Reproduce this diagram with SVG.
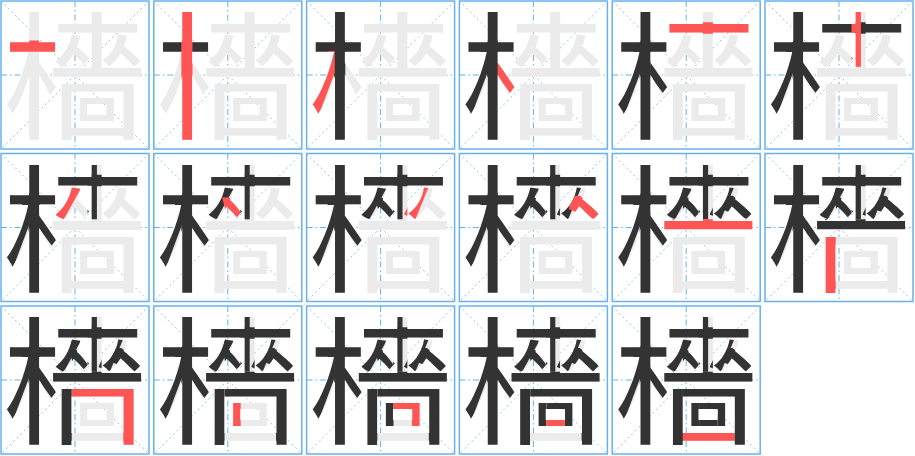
<svg xmlns="http://www.w3.org/2000/svg" xmlns:xlink="http://www.w3.org/1999/xlink" width="915" height="456" viewBox="0 0 915 456">
<style>
.bg{fill:#ffffff}
.frame{fill:none;stroke:#67b1ef;stroke-width:1.5}
.mid{stroke:#67b1ef;stroke-width:1;stroke-dasharray:6,3,1.5,3}
.diag{stroke:#8cc4f2;stroke-width:1;stroke-dasharray:2,3}
.gh{fill:#ebebeb}
.d{fill:#333333}
.r{fill:#ff5555}
</style>
<defs>
<text id="gl" x="40" y="392" font-family="'Noto Sans CJK TC','Noto Sans CJK SC',sans-serif" font-size="400">檣</text>
<clipPath id="c1"><polygon points="50,138 195,138 195,170 50,170"/></clipPath>
<clipPath id="c2"><polygon points="112,45 143,45 143,432 112,432"/></clipPath>
<clipPath id="c3"><polygon points="95,168 114,168 114,230 70,352 38,352 38,320"/></clipPath>
<clipPath id="c4"><polygon points="141,195 172,195 172,245 200,285 185,302 141,240"/></clipPath>
<clipPath id="c5"><polygon points="185,85 425,85 425,118 185,118"/></clipPath>
<clipPath id="c6"><polygon points="276,45 302,45 302,214 276,214"/></clipPath>
<clipPath id="c7"><polygon points="236,116 262,116 210,214 180,200"/></clipPath>
<clipPath id="c8"><polygon points="225,150 245,150 276,192 272,214 238,200"/></clipPath>
<clipPath id="c9"><polygon points="346,116 376,116 338,214 306,200"/></clipPath>
<clipPath id="c10"><polygon points="345,145 370,145 428,198 412,214 340,185"/></clipPath>
<clipPath id="c11"><polygon points="170,214 432,214 432,243 170,243"/></clipPath>
<clipPath id="c12"><polygon points="198,255 232,255 232,432 198,432"/></clipPath>
<clipPath id="c13"><polygon points="232,250 412,250 412,432 375,432 375,288 232,288"/></clipPath>
<clipPath id="c14"><polygon points="250,298 277,298 277,374 250,374"/></clipPath>
<clipPath id="c15"><polygon points="277,296 352,296 352,374 328,374 328,326 277,326"/></clipPath>
<clipPath id="c16"><polygon points="277,340 328,340 328,374 277,374"/></clipPath>
<clipPath id="c17"><polygon points="232,378 375,378 375,420 232,420"/></clipPath>
<use id="k1" xlink:href="#gl" clip-path="url(#c1)"/>
<use id="k2" xlink:href="#gl" clip-path="url(#c2)"/>
<use id="k3" xlink:href="#gl" clip-path="url(#c3)"/>
<use id="k4" xlink:href="#gl" clip-path="url(#c4)"/>
<use id="k5" xlink:href="#gl" clip-path="url(#c5)"/>
<use id="k6" xlink:href="#gl" clip-path="url(#c6)"/>
<use id="k7" xlink:href="#gl" clip-path="url(#c7)"/>
<use id="k8" xlink:href="#gl" clip-path="url(#c8)"/>
<use id="k9" xlink:href="#gl" clip-path="url(#c9)"/>
<use id="k10" xlink:href="#gl" clip-path="url(#c10)"/>
<use id="k11" xlink:href="#gl" clip-path="url(#c11)"/>
<use id="k12" xlink:href="#gl" clip-path="url(#c12)"/>
<use id="k13" xlink:href="#gl" clip-path="url(#c13)"/>
<use id="k14" xlink:href="#gl" clip-path="url(#c14)"/>
<use id="k15" xlink:href="#gl" clip-path="url(#c15)"/>
<use id="k16" xlink:href="#gl" clip-path="url(#c16)"/>
<use id="k17" xlink:href="#gl" clip-path="url(#c17)"/>
<g id="grid">
<rect class="frame" x="1" y="1" width="148" height="148"/>
<line class="mid" x1="75" y1="1" x2="75" y2="149"/>
<line class="mid" x1="1" y1="75" x2="149" y2="75"/>
<line class="diag" x1="1" y1="1" x2="149" y2="149"/>
<line class="diag" x1="149" y1="1" x2="1" y2="149"/>
</g>
</defs>
<rect class="bg" x="0" y="0" width="915" height="456"/>
<g id="step1" transform="translate(0,0)"><use xlink:href="#grid"/><g transform="translate(-11.8,-7) scale(0.36,0.345)"><use xlink:href="#gl" class="gh"/><use xlink:href="#k1" class="r"/></g></g>
<g id="step2" transform="translate(152.8,0)"><use xlink:href="#grid"/><g transform="translate(-11.8,-7) scale(0.36,0.345)"><use xlink:href="#gl" class="gh"/><use xlink:href="#k1" class="d"/><use xlink:href="#k2" class="r"/></g></g>
<g id="step3" transform="translate(305.6,0)"><use xlink:href="#grid"/><g transform="translate(-11.8,-7) scale(0.36,0.345)"><use xlink:href="#gl" class="gh"/><use xlink:href="#k1" class="d"/><use xlink:href="#k2" class="d"/><use xlink:href="#k3" class="r"/></g></g>
<g id="step4" transform="translate(458.4,0)"><use xlink:href="#grid"/><g transform="translate(-11.8,-7) scale(0.36,0.345)"><use xlink:href="#gl" class="gh"/><use xlink:href="#k1" class="d"/><use xlink:href="#k2" class="d"/><use xlink:href="#k3" class="d"/><use xlink:href="#k4" class="r"/></g></g>
<g id="step5" transform="translate(611.2,0)"><use xlink:href="#grid"/><g transform="translate(-11.8,-7) scale(0.36,0.345)"><use xlink:href="#gl" class="gh"/><use xlink:href="#k1" class="d"/><use xlink:href="#k2" class="d"/><use xlink:href="#k3" class="d"/><use xlink:href="#k4" class="d"/><use xlink:href="#k5" class="r"/></g></g>
<g id="step6" transform="translate(764,0)"><use xlink:href="#grid"/><g transform="translate(-11.8,-7) scale(0.36,0.345)"><use xlink:href="#gl" class="gh"/><use xlink:href="#k1" class="d"/><use xlink:href="#k2" class="d"/><use xlink:href="#k3" class="d"/><use xlink:href="#k4" class="d"/><use xlink:href="#k5" class="d"/><use xlink:href="#k6" class="r"/></g></g>
<g id="step7" transform="translate(0,152.5)"><use xlink:href="#grid"/><g transform="translate(-11.8,-7) scale(0.36,0.345)"><use xlink:href="#gl" class="gh"/><use xlink:href="#k1" class="d"/><use xlink:href="#k2" class="d"/><use xlink:href="#k3" class="d"/><use xlink:href="#k4" class="d"/><use xlink:href="#k5" class="d"/><use xlink:href="#k6" class="d"/><use xlink:href="#k7" class="r"/></g></g>
<g id="step8" transform="translate(152.8,152.5)"><use xlink:href="#grid"/><g transform="translate(-11.8,-7) scale(0.36,0.345)"><use xlink:href="#gl" class="gh"/><use xlink:href="#k1" class="d"/><use xlink:href="#k2" class="d"/><use xlink:href="#k3" class="d"/><use xlink:href="#k4" class="d"/><use xlink:href="#k5" class="d"/><use xlink:href="#k6" class="d"/><use xlink:href="#k7" class="d"/><use xlink:href="#k8" class="r"/></g></g>
<g id="step9" transform="translate(305.6,152.5)"><use xlink:href="#grid"/><g transform="translate(-11.8,-7) scale(0.36,0.345)"><use xlink:href="#gl" class="gh"/><use xlink:href="#k1" class="d"/><use xlink:href="#k2" class="d"/><use xlink:href="#k3" class="d"/><use xlink:href="#k4" class="d"/><use xlink:href="#k5" class="d"/><use xlink:href="#k6" class="d"/><use xlink:href="#k7" class="d"/><use xlink:href="#k8" class="d"/><use xlink:href="#k9" class="r"/></g></g>
<g id="step10" transform="translate(458.4,152.5)"><use xlink:href="#grid"/><g transform="translate(-11.8,-7) scale(0.36,0.345)"><use xlink:href="#gl" class="gh"/><use xlink:href="#k1" class="d"/><use xlink:href="#k2" class="d"/><use xlink:href="#k3" class="d"/><use xlink:href="#k4" class="d"/><use xlink:href="#k5" class="d"/><use xlink:href="#k6" class="d"/><use xlink:href="#k7" class="d"/><use xlink:href="#k8" class="d"/><use xlink:href="#k9" class="d"/><use xlink:href="#k10" class="r"/></g></g>
<g id="step11" transform="translate(611.2,152.5)"><use xlink:href="#grid"/><g transform="translate(-11.8,-7) scale(0.36,0.345)"><use xlink:href="#gl" class="gh"/><use xlink:href="#k1" class="d"/><use xlink:href="#k2" class="d"/><use xlink:href="#k3" class="d"/><use xlink:href="#k4" class="d"/><use xlink:href="#k5" class="d"/><use xlink:href="#k6" class="d"/><use xlink:href="#k7" class="d"/><use xlink:href="#k8" class="d"/><use xlink:href="#k9" class="d"/><use xlink:href="#k10" class="d"/><use xlink:href="#k11" class="r"/></g></g>
<g id="step12" transform="translate(764,152.5)"><use xlink:href="#grid"/><g transform="translate(-11.8,-7) scale(0.36,0.345)"><use xlink:href="#gl" class="gh"/><use xlink:href="#k1" class="d"/><use xlink:href="#k2" class="d"/><use xlink:href="#k3" class="d"/><use xlink:href="#k4" class="d"/><use xlink:href="#k5" class="d"/><use xlink:href="#k6" class="d"/><use xlink:href="#k7" class="d"/><use xlink:href="#k8" class="d"/><use xlink:href="#k9" class="d"/><use xlink:href="#k10" class="d"/><use xlink:href="#k11" class="d"/><use xlink:href="#k12" class="r"/></g></g>
<g id="step13" transform="translate(0,305)"><use xlink:href="#grid"/><g transform="translate(-11.8,-7) scale(0.36,0.345)"><use xlink:href="#gl" class="gh"/><use xlink:href="#k1" class="d"/><use xlink:href="#k2" class="d"/><use xlink:href="#k3" class="d"/><use xlink:href="#k4" class="d"/><use xlink:href="#k5" class="d"/><use xlink:href="#k6" class="d"/><use xlink:href="#k7" class="d"/><use xlink:href="#k8" class="d"/><use xlink:href="#k9" class="d"/><use xlink:href="#k10" class="d"/><use xlink:href="#k11" class="d"/><use xlink:href="#k12" class="d"/><use xlink:href="#k13" class="r"/></g></g>
<g id="step14" transform="translate(152.8,305)"><use xlink:href="#grid"/><g transform="translate(-11.8,-7) scale(0.36,0.345)"><use xlink:href="#gl" class="gh"/><use xlink:href="#k1" class="d"/><use xlink:href="#k2" class="d"/><use xlink:href="#k3" class="d"/><use xlink:href="#k4" class="d"/><use xlink:href="#k5" class="d"/><use xlink:href="#k6" class="d"/><use xlink:href="#k7" class="d"/><use xlink:href="#k8" class="d"/><use xlink:href="#k9" class="d"/><use xlink:href="#k10" class="d"/><use xlink:href="#k11" class="d"/><use xlink:href="#k12" class="d"/><use xlink:href="#k13" class="d"/><use xlink:href="#k14" class="r"/></g></g>
<g id="step15" transform="translate(305.6,305)"><use xlink:href="#grid"/><g transform="translate(-11.8,-7) scale(0.36,0.345)"><use xlink:href="#gl" class="gh"/><use xlink:href="#k1" class="d"/><use xlink:href="#k2" class="d"/><use xlink:href="#k3" class="d"/><use xlink:href="#k4" class="d"/><use xlink:href="#k5" class="d"/><use xlink:href="#k6" class="d"/><use xlink:href="#k7" class="d"/><use xlink:href="#k8" class="d"/><use xlink:href="#k9" class="d"/><use xlink:href="#k10" class="d"/><use xlink:href="#k11" class="d"/><use xlink:href="#k12" class="d"/><use xlink:href="#k13" class="d"/><use xlink:href="#k14" class="d"/><use xlink:href="#k15" class="r"/></g></g>
<g id="step16" transform="translate(458.4,305)"><use xlink:href="#grid"/><g transform="translate(-11.8,-7) scale(0.36,0.345)"><use xlink:href="#gl" class="gh"/><use xlink:href="#k1" class="d"/><use xlink:href="#k2" class="d"/><use xlink:href="#k3" class="d"/><use xlink:href="#k4" class="d"/><use xlink:href="#k5" class="d"/><use xlink:href="#k6" class="d"/><use xlink:href="#k7" class="d"/><use xlink:href="#k8" class="d"/><use xlink:href="#k9" class="d"/><use xlink:href="#k10" class="d"/><use xlink:href="#k11" class="d"/><use xlink:href="#k12" class="d"/><use xlink:href="#k13" class="d"/><use xlink:href="#k14" class="d"/><use xlink:href="#k15" class="d"/><use xlink:href="#k16" class="r"/></g></g>
<g id="step17" transform="translate(611.2,305)"><use xlink:href="#grid"/><g transform="translate(-11.8,-7) scale(0.36,0.345)"><use xlink:href="#gl" class="gh"/><use xlink:href="#k1" class="d"/><use xlink:href="#k2" class="d"/><use xlink:href="#k3" class="d"/><use xlink:href="#k4" class="d"/><use xlink:href="#k5" class="d"/><use xlink:href="#k6" class="d"/><use xlink:href="#k7" class="d"/><use xlink:href="#k8" class="d"/><use xlink:href="#k9" class="d"/><use xlink:href="#k10" class="d"/><use xlink:href="#k11" class="d"/><use xlink:href="#k12" class="d"/><use xlink:href="#k13" class="d"/><use xlink:href="#k14" class="d"/><use xlink:href="#k15" class="d"/><use xlink:href="#k16" class="d"/><use xlink:href="#k17" class="r"/></g></g>
</svg>
